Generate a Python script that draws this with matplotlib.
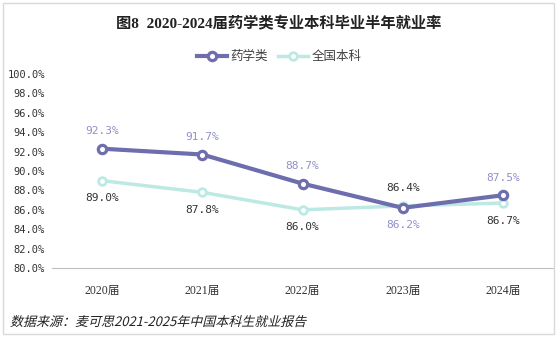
import matplotlib.pyplot as plt
from matplotlib.patches import Rectangle, PathPatch
from matplotlib.ticker import FuncFormatter
from matplotlib.textpath import TextPath
from matplotlib.font_manager import FontProperties
from matplotlib.transforms import Affine2D

plt.rcParams['font.family'] = ['Liberation Serif', 'Noto Sans CJK SC', 'DejaVu Sans']

years = ['2020届', '2021届', '2022届', '2023届', '2024届']
yaoxue = [92.3, 91.7, 88.7, 86.2, 87.5]
quanguo = [89.0, 87.8, 86.0, 86.4, 86.7]

c_yx = '#6E6EAE'
c_qg = '#BDE9E4'
c_yx_lab = '#9090C8'

fig = plt.figure(figsize=(5.58, 3.4), dpi=100)
ax = fig.add_axes([52 / 558, 1 - 268 / 340, 501 / 558, 194 / 340])

x = list(range(len(years)))
ax.plot(x, quanguo, color=c_qg, lw=2.5, marker='o', ms=5.5, mfc='white',
        mec=c_qg, mew=2, label='全国本科', zorder=3)
ax.plot(x, yaoxue, color=c_yx, lw=3, marker='o', ms=6, mfc='white',
        mec=c_yx, mew=2.3, label='药学类', zorder=4)

# 数据标签：高的在上方，低的在下方
for i in x:
    a, b = yaoxue[i], quanguo[i]
    ya, va_a = (a + 1.3, 'bottom') if a >= b else (a - 1.3, 'top')
    yb, va_b = (b + 1.3, 'bottom') if b > a else (b - 1.3, 'top')
    ax.text(i, ya, f'{a:.1f}%', color=c_yx_lab, ha='center', va=va_a,
            fontsize=8, family=['DejaVu Sans Mono'])
    ax.text(i, yb, f'{b:.1f}%', color='#333333', ha='center', va=va_b,
            fontsize=8, family=['DejaVu Sans Mono'])

ax.set_xlim(-0.5, 4.5)
ax.set_ylim(80, 100)
ax.set_yticks(range(80, 101, 2))
ax.yaxis.set_major_formatter(FuncFormatter(lambda v, p: f'{v:.1f}%'))
ax.set_xticks(x)
ax.set_xticklabels(years)
for s in ['top', 'right', 'left']:
    ax.spines[s].set_visible(False)
ax.spines['bottom'].set_color('#BFBFBF')
ax.tick_params(length=0, colors='#333333')
ax.tick_params(axis='y', labelsize=7.5, pad=5)
ax.tick_params(axis='x', labelsize=8.5, pad=12)
for t in ax.get_yticklabels():
    t.set_family(['DejaVu Sans Mono'])

h, l = ax.get_legend_handles_labels()
fig.legend(h[::-1], l[::-1], loc='center', bbox_to_anchor=(0.5, 1 - 57 / 340),
           ncol=2, frameon=False, fontsize=9, handlelength=2.4,
           columnspacing=0.8, handletextpad=0.3, labelcolor='#404040')

fig.text(0.5, 1 - 24 / 340, '图8  2020-2024届药学类专业本科毕业半年就业率',
         ha='center', va='center', fontsize=11, fontweight='bold', color='#222222')

# 斜体的数据来源（CJK 字体没有斜体，用错切变换画出，单位为像素）
src = '数据来源：麦可思2021-2025年中国本科生就业报告'
tp = TextPath((0, 0), src, size=13,
              prop=FontProperties(family=['Noto Sans CJK SC', 'DejaVu Sans']))
tr = Affine2D().skew_deg(14, 0).translate(10, 340 - 326)
fig.patches.append(PathPatch(tr.transform_path(tp), transform=None,
                             fc='#222222', ec='none', lw=0))

# 外框
fig.patches.append(Rectangle((3 / 558, 6 / 340), 551 / 558, 331 / 340,
                             transform=fig.transFigure, fill=False,
                             ec='#D9D9D9', lw=1))

fig.savefig('out.png', dpi=100)
